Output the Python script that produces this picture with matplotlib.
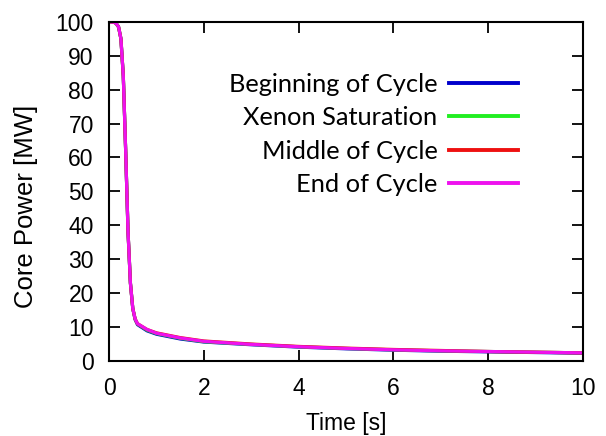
import matplotlib.pyplot as plt
import numpy as np

plt.rcParams['font.family'] = ['Liberation Sans', 'DejaVu Sans']

# time after trip [s]
t = [0, 0.1, 0.15, 0.2, 0.25, 0.3, 0.35, 0.4, 0.45, 0.5, 0.55, 0.6, 0.8, 1.0,
     1.5, 2, 3, 4, 5, 6, 7, 8, 9, 10]
# core power [MW] for each core state
p_boc = [100, 99.9, 99.5, 98.5, 95, 84, 62, 38, 23, 15.5, 12.2, 10.7, 8.9, 7.9,
         6.5, 5.6, 4.8, 4.1, 3.6, 3.2, 2.9, 2.7, 2.5, 2.3]
p_xe = [100, 99.9, 99.5, 98.5, 95, 84, 62, 38, 23, 15.5, 12.3, 10.9, 9.1, 8.1,
        6.7, 5.7, 4.9, 4.2, 3.7, 3.3, 3.0, 2.8, 2.6, 2.4]
p_moc = [100, 99.9, 99.5, 98.5, 95, 84, 62, 38, 23, 15.5, 12.4, 11.0, 9.3, 8.3,
         6.9, 5.9, 5.0, 4.3, 3.8, 3.4, 3.1, 2.8, 2.6, 2.4]
p_eoc = [100, 99.9, 99.5, 98.5, 95, 84, 62, 38, 23, 15.5, 12.4, 11.0, 9.3, 8.2,
         6.8, 5.8, 4.9, 4.2, 3.7, 3.3, 3.0, 2.8, 2.6, 2.4]

labels = ['Beginning of Cycle', 'Xenon Saturation', 'Middle of Cycle', 'End of Cycle']
colors = ['#0000cc', '#22ee22', '#ee1111', '#ee11ee']

fig = plt.figure(figsize=(6.06, 4.36), dpi=100)
ax = fig.add_axes([0.180, 0.172, 0.782, 0.778])

for p, lab, c in zip([p_boc, p_xe, p_moc, p_eoc], labels, colors):
    ax.plot(t, p, color=c, lw=2.3, label=lab)

ax.set_xlim(0, 10)
ax.set_ylim(0, 100)
ax.set_xticks(np.arange(0, 11, 2))
ax.set_yticks(np.arange(0, 101, 10))
ax.tick_params(direction='in', length=8, width=1.3, top=True, right=True,
               labelsize=16.5)
ax.tick_params(axis='x', pad=11.5)
ax.tick_params(axis='y', pad=11)
for s in ax.spines.values():
    s.set_linewidth(1.5)
ax.set_xlabel('Time [s]', fontsize=16.5, labelpad=9)
ax.set_ylabel('Core Power [MW]', fontsize=18.5)
ax.yaxis.set_label_coords(-0.149, 0.457)

leg = ax.legend(loc='upper right', bbox_to_anchor=(0.863, 0.850), frameon=False,
                markerfirst=False, handlelength=2.7, handletextpad=0.47,
                labelspacing=0.41, borderpad=0, borderaxespad=0,
                prop={'family': 'Lato', 'size': 18.3})
# right-align legend labels like gnuplot's key
for col in leg._legend_handle_box.get_children():
    col.align = 'right'
for line in leg.get_lines():
    line.set_linewidth(2.8)

fig.savefig('out.png', dpi=100)
